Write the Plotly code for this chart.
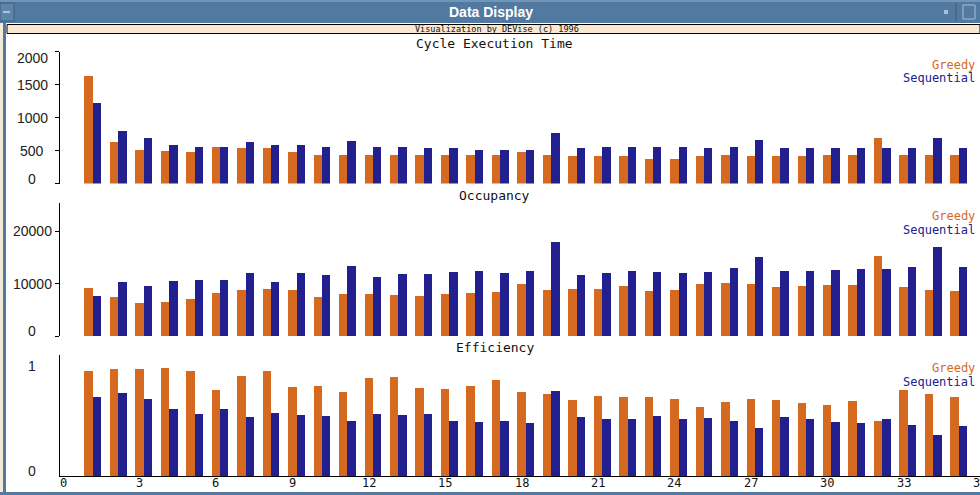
import plotly.graph_objects as go

# ---- data -------------------------------------------------------------
runs = list(range(1, 36))

cycle_greedy = [1640, 640, 515, 505, 490, 555, 540, 540, 490, 430,
                430, 430, 430, 430, 430, 430, 430, 490, 430, 415,
                415, 415, 380, 380, 415, 430, 415, 415, 415, 430,
                430, 690, 430, 430, 430]
cycle_seq = [1220, 808, 690, 590, 565, 565, 640, 590, 590, 555,
             655, 555, 555, 540, 540, 520, 520, 520, 770, 540,
             555, 555, 555, 555, 540, 555, 670, 540, 540, 540,
             540, 540, 540, 690, 540]

occ_greedy = [9090, 7300, 6230, 6420, 7050, 8130, 8700, 8900, 8700, 7300,
              7940, 7940, 7680, 7490, 7940, 8130, 8320, 9770, 8760, 8950,
              8950, 9390, 8570, 8700, 9850, 10040, 9850, 9200, 9390, 9580,
              9580, 15240, 9200, 8760, 8570]
occ_seq = [7490, 10230, 9390, 10340, 10610, 10610, 11870, 10230, 11870, 11620,
           13330, 11240, 11680, 11680, 12060, 12250, 11870, 12250, 17900, 11490,
           11870, 12250, 12130, 11870, 12130, 12950, 15050, 12320, 12320, 12510,
           12700, 12700, 13140, 16900, 13140]

eff_greedy = [0.955, 0.973, 0.973, 0.985, 0.955, 0.782, 0.912, 0.955, 0.812, 0.821,
              0.761, 0.894, 0.903, 0.803, 0.791, 0.821, 0.873, 0.761, 0.742, 0.691,
              0.730, 0.721, 0.721, 0.700, 0.624, 0.676, 0.700, 0.691, 0.667, 0.642,
              0.682, 0.503, 0.782, 0.742, 0.721]
eff_seq = [0.720, 0.757, 0.697, 0.606, 0.567, 0.606, 0.536, 0.576, 0.555, 0.545,
           0.503, 0.564, 0.555, 0.564, 0.503, 0.494, 0.503, 0.485, 0.773, 0.533,
           0.515, 0.515, 0.545, 0.515, 0.524, 0.503, 0.433, 0.533, 0.515, 0.494,
           0.485, 0.515, 0.464, 0.373, 0.455]

x_ticks = [0, 3, 6, 9, 12, 15, 18, 21, 24, 27, 30, 33, 36]
cycle_ticks = [0, 500, 1000, 1500, 2000]
occ_ticks = [0, 10000, 20000]
eff_ticks = [0, 1]

# ---- styling ----------------------------------------------------------
W, H = 980, 495
ORANGE = "#d4691f"
NAVY = "#21208e"
FRAME = "#52799f"
MONO = "DejaVu Sans Mono"
SANS = "Liberation Sans"
BAR_W = 0.33


def py(px):
    """pixel row -> paper y"""
    return 1 - px / H


def px_x(px):
    return px / W


# (title, greedy, sequential, ticks, range, top px, bottom px, x axis, y axis)
panels = [
    ("Cycle Execution Time", cycle_greedy, cycle_seq, cycle_ticks, [0, 2000], 51.7, 183.5, "x3", "y3"),
    ("Occupancy", occ_greedy, occ_seq, occ_ticks, [0, 25300], 203.3, 336.0, "x2", "y2"),
    ("Efficiency", eff_greedy, eff_seq, eff_ticks, [0, 1.1], 355.0, 476.0, "x", "y"),
]

fig = go.Figure()
annotations = []
x_range = [-0.12, 36]
x_domain = [px_x(60), 1.0]
x_tick_font = dict(family=MONO, size=12, color="#111")

layout_axes = {}
for title, g, s, ticks, yr, top, bot, xa, ya in panels:
    fig.add_trace(go.Bar(x=runs, y=g, name="Greedy", marker_color=ORANGE,
                         marker_line_width=0, width=BAR_W, offset=-BAR_W / 2,
                         xaxis=xa, yaxis=ya, showlegend=False))
    fig.add_trace(go.Bar(x=runs, y=s, name="Sequential", marker_color=NAVY,
                         marker_line_width=0, width=BAR_W, offset=BAR_W / 2,
                         xaxis=xa, yaxis=ya, showlegend=False))

    xkey = "xaxis" if xa == "x" else "xaxis" + xa[1:]
    ykey = "yaxis" if ya == "y" else "yaxis" + ya[1:]
    bottom_panel = xa == "x"
    layout_axes[xkey] = dict(
        domain=x_domain, range=x_range, anchor=ya,
        showgrid=False, zeroline=False,
        showline=bottom_panel, linecolor="black", linewidth=1,
        tickvals=x_ticks if bottom_panel else [],
        ticks="", showticklabels=False,
    )
    layout_axes[ykey] = dict(
        domain=[py(bot), py(top)], range=yr, anchor=xa,
        showgrid=False, zeroline=False,
        showline=True, linecolor="black", linewidth=1,
        tickvals=ticks, ticks="" if bottom_panel else "outside",
        ticklen=4, tickcolor="black", showticklabels=False,
    )

    # centred value labels on the left of each y axis
    for t in ticks:
        shift = 0
        if t == yr[0]:
            shift = 5
        elif t >= yr[1] - 1e-9:
            shift = -6
        annotations.append(dict(
            x=px_x(32), xref="paper", y=t, yref=ya, text=f"{t:g}",
            showarrow=False, xanchor="center", yanchor="middle", yshift=shift,
            font=dict(family=SANS, size=14, color="#222")))

    # run numbers under the bottom axis
    if bottom_panel:
        for t in x_ticks:
            annotations.append(dict(
                x=t, xref=xa, y=py(bot + 7), yref="paper", text=str(t),
                showarrow=False, xanchor="center", yanchor="middle",
                font=x_tick_font))

    # panel title
    annotations.append(dict(
        x=px_x(495), y=py(top - 8), xref="paper", yref="paper", text=title,
        showarrow=False, xanchor="center", yanchor="middle",
        font=dict(family=MONO, size=13, color="#111")))
    # series key at the upper right
    annotations.append(dict(
        x=px_x(977), y=py(top + 13), xref="paper", yref="paper", text="Greedy",
        showarrow=False, xanchor="right", yanchor="middle",
        font=dict(family=MONO, size=12, color=ORANGE)))
    annotations.append(dict(
        x=px_x(977), y=py(top + 26.5), xref="paper", yref="paper", text="Sequential",
        showarrow=False, xanchor="right", yanchor="middle",
        font=dict(family=MONO, size=12, color=NAVY)))

# ---- window chrome ----------------------------------------------------
shapes = [
    # title bar
    dict(type="rect", xref="paper", yref="paper", x0=0, x1=1, y0=py(23), y1=1,
         fillcolor=FRAME, line_width=0, layer="below"),
    dict(type="rect", xref="paper", yref="paper", x0=0, x1=1, y0=py(2), y1=1,
         fillcolor="#7396b8", line_width=0, layer="below"),
    # menu button on the left and window buttons on the right
    dict(type="rect", xref="paper", yref="paper", x0=px_x(0), x1=px_x(14), y0=py(21), y1=py(3),
         fillcolor="#5e84aa", line=dict(color="#3d5f80", width=1), layer="below"),
    dict(type="line", xref="paper", yref="paper", x0=px_x(3), x1=px_x(10), y0=py(12), y1=py(12),
         line=dict(color="#c9d8e6", width=1.5)),
    dict(type="line", xref="paper", yref="paper", x0=px_x(956), x1=px_x(956), y0=py(21), y1=py(3),
         line=dict(color="#3d5f80", width=1)),
    dict(type="rect", xref="paper", yref="paper", x0=px_x(944), x1=px_x(948), y0=py(14), y1=py(10),
         fillcolor="#a9c0d6", line_width=0),
    dict(type="rect", xref="paper", yref="paper", x0=px_x(963), x1=px_x(975), y0=py(19), y1=py(5),
         fillcolor="rgba(0,0,0,0)", line=dict(color="#a9c0d6", width=1)),
    # DEVise banner strip
    dict(type="rect", xref="paper", yref="paper", x0=px_x(7), x1=1, y0=py(33.5), y1=py(24.5),
         fillcolor="#f9e7d2", line=dict(color="black", width=1), layer="below"),
    # left frame edge and bottom frame edge
    dict(type="rect", xref="paper", yref="paper", x0=px_x(0), x1=px_x(3), y0=0, y1=py(23),
         fillcolor="#f4ead8", line_width=0, layer="below"),
    dict(type="rect", xref="paper", yref="paper", x0=px_x(3), x1=px_x(6), y0=0, y1=py(23),
         fillcolor=FRAME, line_width=0, layer="below"),
    dict(type="rect", xref="paper", yref="paper", x0=0, x1=1, y0=0, y1=py(492),
         fillcolor=FRAME, line_width=0, layer="below"),
]

annotations.append(dict(
    x=px_x(491), y=py(11.5), xref="paper", yref="paper", text="<b>Data Display</b>",
    showarrow=False, xanchor="center", yanchor="middle",
    font=dict(family=SANS, size=14, color="white")))
annotations.append(dict(
    x=px_x(497), y=py(29), xref="paper", yref="paper",
    text="Visualization by DEVise (c) 1996",
    showarrow=False, xanchor="center", yanchor="middle",
    font=dict(family=MONO, size=8.5, color="#111")))

fig.update_layout(
    width=W, height=H,
    margin=dict(l=0, r=0, t=0, b=0, pad=0, autoexpand=False),
    paper_bgcolor="white", plot_bgcolor="white",
    barmode="overlay", bargap=0,
    shapes=shapes, annotations=annotations,
    showlegend=False,
    **layout_axes,
)

fig.write_html("out.html", config={"displayModeBar": False})
